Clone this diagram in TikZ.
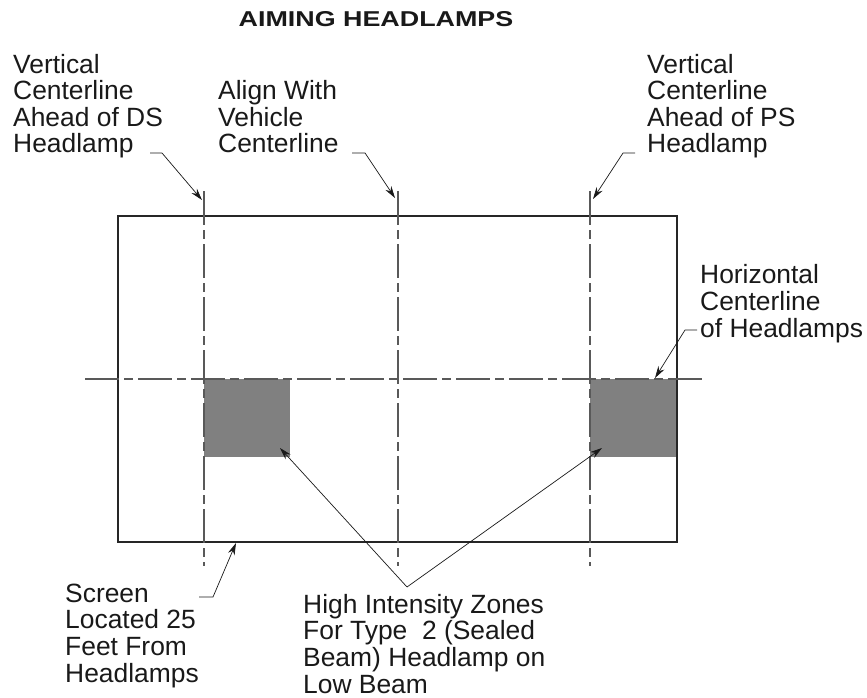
\documentclass[tikz,border=0pt]{standalone}
\usepackage{fontspec}
\setmainfont{Liberation Sans}
\usetikzlibrary{arrows.meta}
\begin{document}
\begin{tikzpicture}[x=1pt,y=-1pt,
  lbl/.style={font=\fontsize{26.4}{26.6}\selectfont, align=left, anchor=base west, inner sep=0pt, text=black!90},
  screenline/.style={draw=black!85, line width=1.1pt},
  cline/.style={draw=black!65, line width=1.1pt, dash pattern=on 34pt off 5pt on 9pt off 5pt},
  zone/.style={fill=black!50, draw=none},
  lead/.style={draw=black!90, line width=0.7pt},
  arr/.style={lead, -{Stealth[length=12pt,width=7pt]}}
]
\useasboundingbox (0,0) rectangle (867,698);

% high intensity zones
\fill[zone] (204,379) rectangle (290,457);
\fill[zone] (590,379) rectangle (677,457);

% screen
\draw[screenline] (118,216) rectangle (677,542);

% centerlines
\draw[cline] (204,191) -- (204,566);
\draw[cline] (398,191) -- (398,566);
\draw[cline] (590,191) -- (590,566);
\draw[cline] (85,379) -- (704,379);

% title
\node[font=\bfseries\fontsize{21.5}{21.5}\selectfont, anchor=base, inner sep=0pt, text=black!90] (title) at (376,27) {\scalebox{1.25}[1]{AIMING HEADLAMPS}};

% labels (anchored at the baseline of their last line)
\node[lbl] (ds) at (13,153) {Vertical\\Centerline\\Ahead of DS\\Headlamp};
\node[lbl] (vc) at (218,153) {Align With\\Vehicle\\Centerline};
\node[lbl] (ps) at (647,153) {Vertical\\Centerline\\Ahead of PS\\Headlamp};
\node[lbl] (hz) at (700,337) {Horizontal\\Centerline\\of Headlamps};
\node[lbl] (sc) at (65,682) {Screen\\Located 25\\Feet From\\Headlamps};
\node[lbl] (hi) at (303,693) {High Intensity Zones\\For Type\ \ 2 (Sealed\\Beam) Headlamp on\\Low Beam};

% leader coordinates
\coordinate (dsA) at (150,153); \coordinate (dsB) at (162,153); \coordinate (dsT) at (202,200);
\coordinate (vcA) at (352,153); \coordinate (vcB) at (365,153); \coordinate (vcT) at (395,198);
\coordinate (psA) at (635,153); \coordinate (psB) at (623,153); \coordinate (psT) at (593,199);
\coordinate (hzA) at (697,330); \coordinate (hzB) at (685,330); \coordinate (hzT) at (655,378);
\coordinate (scA) at (199,597); \coordinate (scB) at (213,597); \coordinate (scT) at (236,543);
\coordinate (hiA) at (407,587); \coordinate (hiL) at (280,448); \coordinate (hiR) at (602,448);

\draw[arr] (dsA) -- (dsB) -- (dsT);
\draw[arr] (vcA) -- (vcB) -- (vcT);
\draw[arr] (psA) -- (psB) -- (psT);
\draw[arr] (hzA) -- (hzB) -- (hzT);
\draw[arr] (scA) -- (scB) -- (scT);
\draw[arr] (hiA) -- (hiL);
\draw[arr] (hiA) -- (hiR);
\end{tikzpicture}
\end{document}
